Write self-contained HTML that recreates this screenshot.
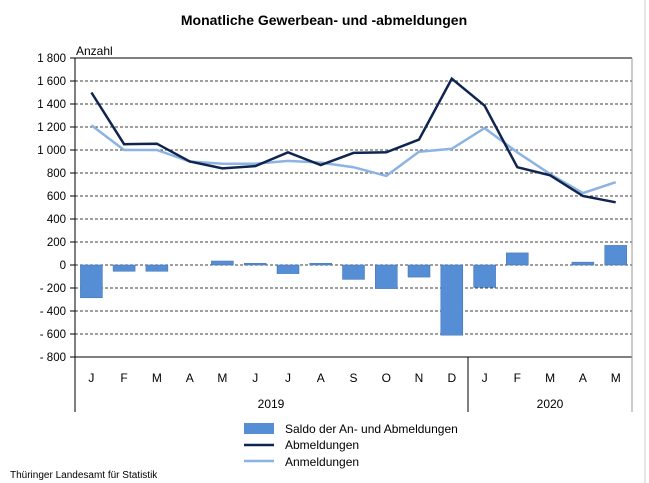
<!DOCTYPE html><html><head><style>body{margin:0;background:#fff}svg{display:block}text{font-family:"Liberation Sans",sans-serif}</style></head><body>
<svg width="649" height="483" xmlns="http://www.w3.org/2000/svg">
<rect width="649" height="483" fill="#fff"/>
<line x1="645" y1="0" x2="645" y2="483" stroke="#ccc"/>
<text x="324" y="25" font-size="14" font-weight="bold" text-anchor="middle">Monatliche Gewerbean- und -abmeldungen</text>
<text x="76" y="55" font-size="12">Anzahl</text>
<g stroke="#000" stroke-dasharray="3,2" stroke-width="0.8">
<line x1="75" y1="81" x2="632" y2="81"/><line x1="75" y1="104" x2="632" y2="104"/><line x1="75" y1="127" x2="632" y2="127"/><line x1="75" y1="150" x2="632" y2="150"/><line x1="75" y1="173" x2="632" y2="173"/><line x1="75" y1="196" x2="632" y2="196"/><line x1="75" y1="219" x2="632" y2="219"/><line x1="75" y1="242" x2="632" y2="242"/><line x1="75" y1="265" x2="632" y2="265"/><line x1="75" y1="288" x2="632" y2="288"/><line x1="75" y1="311" x2="632" y2="311"/><line x1="75" y1="334" x2="632" y2="334"/>
</g>
<g stroke="#000">
<line x1="70" y1="58" x2="75" y2="58"/><line x1="70" y1="81" x2="75" y2="81"/><line x1="70" y1="104" x2="75" y2="104"/><line x1="70" y1="127" x2="75" y2="127"/><line x1="70" y1="150" x2="75" y2="150"/><line x1="70" y1="173" x2="75" y2="173"/><line x1="70" y1="196" x2="75" y2="196"/><line x1="70" y1="219" x2="75" y2="219"/><line x1="70" y1="242" x2="75" y2="242"/><line x1="70" y1="265" x2="75" y2="265"/><line x1="70" y1="288" x2="75" y2="288"/><line x1="70" y1="311" x2="75" y2="311"/><line x1="70" y1="334" x2="75" y2="334"/><line x1="70" y1="357" x2="75" y2="357"/>
</g>
<g font-size="11.5" text-anchor="end">
<text x="66" y="62">1 800</text><text x="66" y="85">1 600</text><text x="66" y="108">1 400</text><text x="66" y="131">1 200</text><text x="66" y="154">1 000</text><text x="66" y="177">800</text><text x="66" y="200">600</text><text x="66" y="223">400</text><text x="66" y="246">200</text><text x="66" y="269">0</text><text x="66" y="292">- 200</text><text x="66" y="315">- 400</text><text x="66" y="338">- 600</text><text x="66" y="361">- 800</text>
</g>
<g fill="#558ed5" stroke="#3d6fb0" stroke-width="0.5">
<rect x="80.4" y="265" width="22" height="32.8"/>
<rect x="113.1" y="265" width="22" height="6.3"/>
<rect x="145.9" y="265" width="22" height="6.3"/>
<rect x="211.4" y="261" width="22" height="4"/>
<rect x="244.2" y="263.3" width="22" height="1.7"/>
<rect x="277" y="265" width="22" height="8.6"/>
<rect x="309.7" y="263.3" width="22" height="1.7"/>
<rect x="342.5" y="265" width="22" height="14.4"/>
<rect x="375.3" y="265" width="22" height="23.6"/>
<rect x="408" y="265" width="22" height="12.1"/>
<rect x="440.8" y="265" width="22" height="70.2"/>
<rect x="473.6" y="265" width="22" height="22.4"/>
<rect x="506.3" y="252.9" width="22" height="12.1"/>
<rect x="571.9" y="262.1" width="22" height="2.9"/>
<rect x="604.7" y="245.4" width="22" height="19.6"/>
</g>
<polyline fill="none" stroke="#8db3e2" stroke-width="2.5" points="91.4,125.3 124.1,150 156.9,150 189.7,161.5 222.4,163.8 255.2,163.8 288,160.9 320.7,162.6 353.5,167.2 386.3,175.9 419,151.7 451.8,148.8 484.6,128.1 517.3,152.3 550.1,174.1 582.9,193.1 615.7,182.2"/>
<polyline fill="none" stroke="#0f2550" stroke-width="2.5" points="91.4,92.5 124.1,144.2 156.9,143.7 189.7,161.5 222.4,168.4 255.2,166.1 288,152.3 320.7,165 353.5,152.9 386.3,152.3 419,139.6 451.8,78.7 484.6,105.7 517.3,167.2 550.1,175.3 582.9,196 615.7,202.3"/>
<line x1="75" y1="58" x2="632" y2="58" stroke="#000"/><line x1="75" y1="357" x2="632" y2="357" stroke="#000"/><line x1="75" y1="58" x2="75" y2="412" stroke="#000"/><line x1="632" y1="58" x2="632" y2="412" stroke="#999"/><line x1="468" y1="357" x2="468" y2="412" stroke="#000"/>
<g font-size="12" text-anchor="middle">
<text x="91.4" y="382">J</text><text x="124.1" y="382">F</text><text x="156.9" y="382">M</text><text x="189.7" y="382">A</text><text x="222.4" y="382">M</text><text x="255.2" y="382">J</text><text x="288" y="382">J</text><text x="320.7" y="382">A</text><text x="353.5" y="382">S</text><text x="386.3" y="382">O</text><text x="419" y="382">N</text><text x="451.8" y="382">D</text><text x="484.6" y="382">J</text><text x="517.3" y="382">F</text><text x="550.1" y="382">M</text><text x="582.9" y="382">A</text><text x="615.7" y="382">M</text>
<text x="271" y="408">2019</text><text x="550" y="408">2020</text>
</g>
<rect x="244" y="423" width="30" height="11" fill="#558ed5"/><text x="285" y="433" font-size="12">Saldo der An- und Abmeldungen</text>
<line x1="244" y1="445" x2="274" y2="445" stroke="#0f2550" stroke-width="2.5"/><text x="285" y="449" font-size="12">Abmeldungen</text>
<line x1="244" y1="461" x2="274" y2="461" stroke="#8db3e2" stroke-width="2.5"/><text x="285" y="466" font-size="12">Anmeldungen</text>
<text x="10" y="478" font-size="10">Thüringer Landesamt für Statistik</text>
</svg></body></html>
